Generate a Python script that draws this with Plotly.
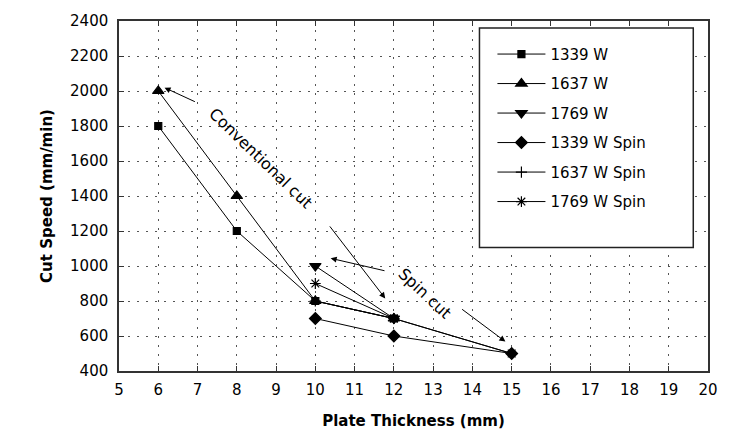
import plotly.graph_objects as go

# ---- data ----
thick_conv = [6, 8, 10, 12]
speed_1339 = [1800, 1200, 800, 700]
speed_1637 = [2000, 1400, 800, 700]
thick_1769 = [10, 12]
speed_1769 = [1000, 700]
thick_spin = [10, 12, 15]
speed_1339_spin = [700, 600, 500]
speed_1637_spin = [800, 700, 500]
speed_1769_spin = [900, 700, 500]

series = [
    ("1339 W", thick_conv, speed_1339, "square", 7),
    ("1637 W", thick_conv, speed_1637, "triangle-up", 10),
    ("1769 W", thick_1769, speed_1769, "triangle-down", 10),
    ("1339 W Spin", thick_spin, speed_1339_spin, "diamond", 9),
    ("1637 W Spin", thick_spin, speed_1637_spin, "cross-thin-open", 8),
    ("1769 W Spin", thick_spin, speed_1769_spin, "asterisk-open", 9),
]

x_ticks = list(range(5, 21))
y_ticks = list(range(400, 2401, 200))

FONT = "DejaVu Sans"

fig = go.Figure()
for name, xs, ys, sym, sz in series:
    fig.add_trace(go.Scatter(
        x=xs, y=ys, name=name, mode="lines+markers", legendgroup=name,
        line=dict(color="black", width=1),
        marker=dict(symbol=sym, size=sz, color="black",
                    line=dict(color="black", width=1.2)),
    ))

# legend frame
fig.add_shape(type="rect", xref="paper", yref="paper",
              x0=0.612, x1=0.975, y0=0.353, y1=0.980,
              line=dict(color="#222", width=1.5), fillcolor="white", layer="above")

# annotations
fig.add_annotation(x=8.62, y=1616, text="Conventional cut", showarrow=False,
                   textangle=44, font=dict(family=FONT, size=16, color="black"))
fig.add_annotation(x=12.79, y=842, text="Spin cut", showarrow=False,
                   textangle=43, font=dict(family=FONT, size=16, color="black"))

arrows = [
    ((6.97, 1935), (6.16, 2019)),
    ((10.34, 1235), (11.78, 815)),
    ((11.80, 971), (10.39, 1044)),
    ((13.70, 759), (14.84, 568)),
]
for (tx, ty), (hx, hy) in arrows:
    fig.add_annotation(x=hx, y=hy, ax=tx, ay=ty, xref="x", yref="y",
                       axref="x", ayref="y", text="", showarrow=True,
                       arrowhead=2, arrowsize=1.2, arrowwidth=1, arrowcolor="black")

axis_common = dict(
    showline=True, linecolor="#333", linewidth=1.5, mirror="ticks",
    ticks="inside", ticklen=5, tickcolor="#333", tickwidth=1,
    showgrid=True, gridcolor="#555", gridwidth=1, griddash="2px,7px",
    zeroline=False, tickfont=dict(family=FONT, size=15, color="black"),
)

fig.update_xaxes(range=[5, 20], tickvals=x_ticks, ticklabelstandoff=4,
                 title=dict(text="<b>Plate Thickness (mm)</b>", standoff=18,
                            font=dict(family=FONT, size=15, color="black")),
                 **axis_common)
fig.update_yaxes(range=[400, 2400], tickvals=y_ticks, ticklabelstandoff=6,
                 title=dict(text="<b>Cut Speed (mm/min)</b>", standoff=14,
                            font=dict(family=FONT, size=15, color="black")),
                 **axis_common)
fig.update_yaxes(mirror=True)

fig.update_layout(
    width=730, height=439,
    margin=dict(l=119, r=18, t=20, b=62),
    paper_bgcolor="white", plot_bgcolor="white",
    showlegend=True,
    legend=dict(x=0.634, xanchor="left", y=0.952, yanchor="top",
                bgcolor="rgba(0,0,0,0)", borderwidth=0,
                traceorder="grouped", tracegroupgap=7, itemwidth=48,
                font=dict(family=FONT, size=15, color="black")),
)

fig.write_html("out.html")
